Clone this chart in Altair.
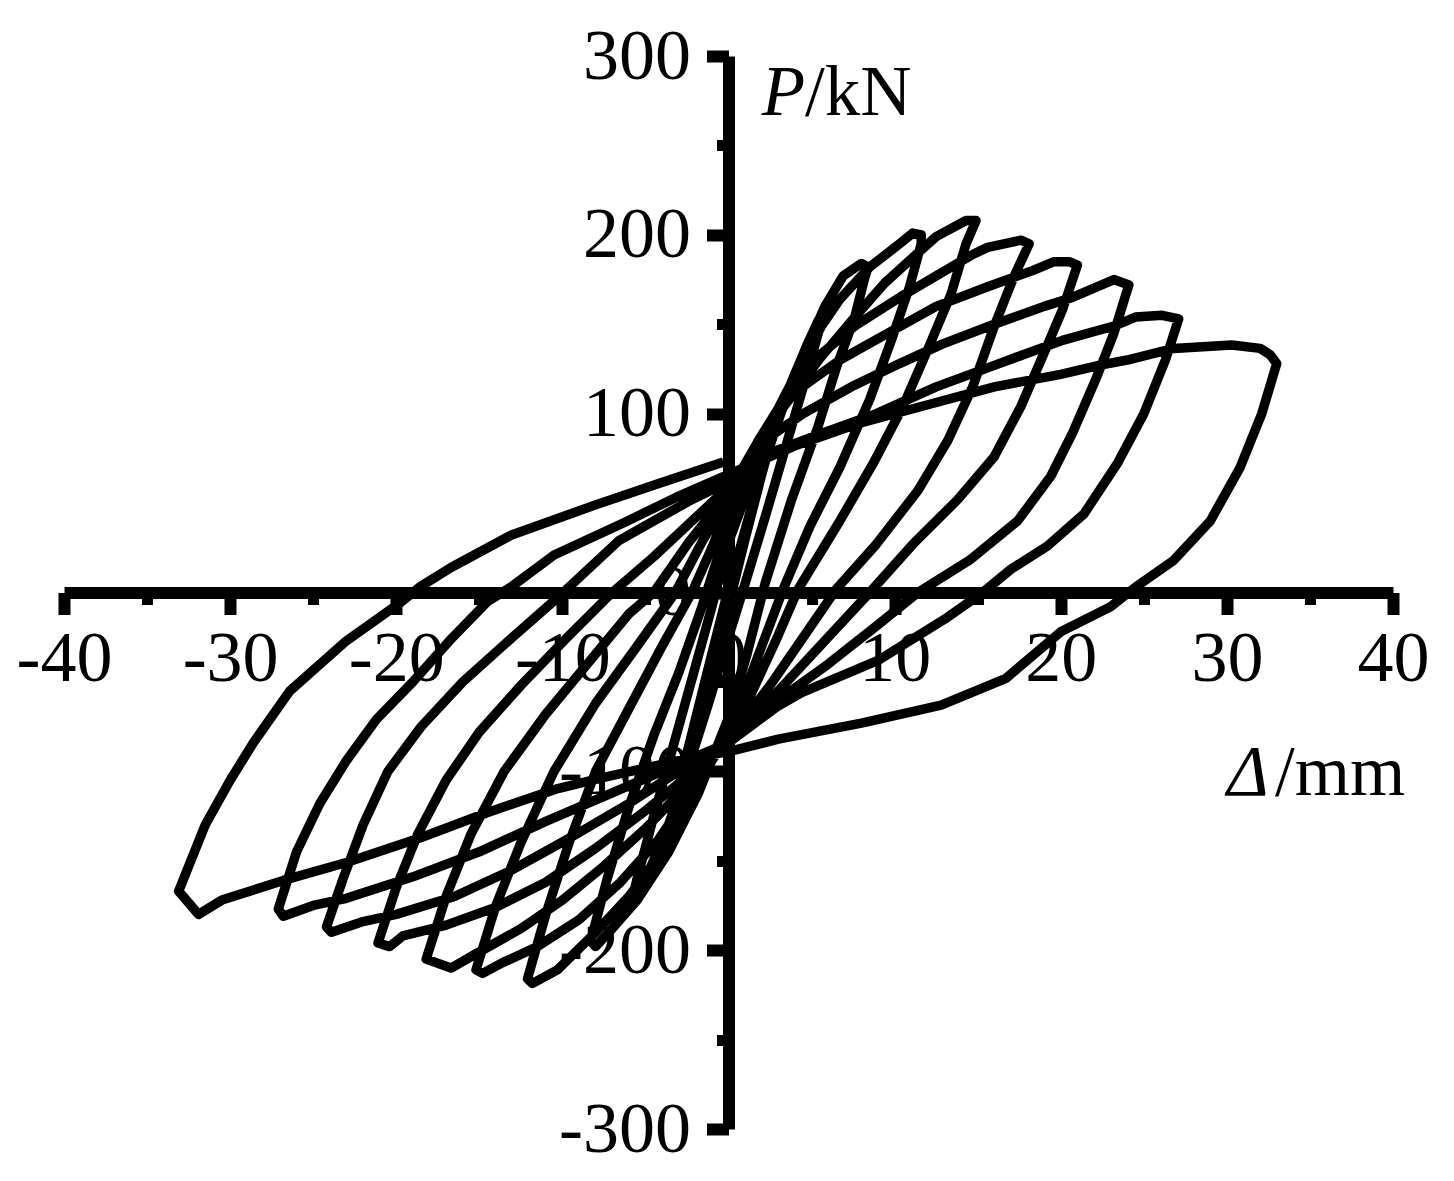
import altair as alt
import pandas as pd

# ---- hysteresis data (displacement mm, load kN) ----
cycle0_x = [0, 0.8, 1.8, 2.8, 3.3, 3.0, 2.0, 1.0, 0.2, -0.8, -1.8, -2.8, -3.4, -3.1, -2.1, -1.1, -0.2, 0]
cycle0_y = [0, 28, 62, 95, 108, 100, 66, 30, 0, -35, -70, -105, -120, -112, -75, -38, -5, 2]

cycle1_x = [0, 1.3, 2.6, 3.8, 4.8, 5.4, 5.7, 5.4, 4.5, 3.4, 2.2, 1.0, 0, -1.2, -2.5, -3.8, -4.9, -5.5, -5.8, -5.5, -4.5, -3.3, -2.1, -1.0, 0]
cycle1_y = [2, 45, 85, 118, 140, 152, 155, 145, 115, 80, 42, 5, -25, -62, -100, -135, -158, -168, -172, -160, -125, -85, -45, -8, 28]

cycle2_x = [0, 1.2, 2.6, 3.8, 4.9, 5.8, 6.9, 8.0, 8.4, 8.2, 7.6, 6.5, 5.4, 3.8, 2.2, 1.1, 0, -1.8, -3.6, -5.5, -7.2, -8.0, -8.3, -7.3, -6.0, -4.5, -3.0, -1.6, -0.7, 0]
cycle2_y = [28, 58, 88, 115, 141, 160, 177, 184, 182, 176, 154, 126, 93, 52, 5, -35, -70, -112, -145, -172, -190, -198, -195, -160, -120, -80, -45, -8, 18, 38]

cycle3_x = [0, 1.5, 3.0, 4.5, 5.6, 6.7, 8.5, 10.3, 11.1, 11.6, 11.6, 10.9, 9.8, 8.5, 6.7, 4.9, 3.3, 2.0, 0.8, 0, -2.0, -4.0, -6.0, -8.0, -10.3, -11.8, -12.1, -11.0, -9.6, -8.0, -6.0, -4.0, -2.2, -1.0, 0]
cycle3_y = [38, 72, 103, 130, 149, 164, 182, 195, 201, 200, 195, 171, 141, 108, 70, 37, 2, -30, -60, -76, -112, -145, -170, -190, -211, -218.6, -216, -180, -140, -100, -65, -30, 0, 25, 48]

cycle4_x = [0, 1.6, 3.0, 4.2, 5.6, 7.6, 9.4, 10.7, 12.5, 14.3, 14.9, 14.3, 13.4, 12.0, 10.5, 8.7, 6.7, 4.2, 2.8, 1.3, 0, -2.0, -4.2, -6.5, -9.0, -11.5, -13.6, -14.8, -15.2, -14.0, -12.5, -10.5, -8.0, -5.5, -3.2, -1.5, 0]
cycle4_y = [48, 80, 102, 115, 132, 154, 173, 184, 199, 208, 208, 195, 167, 136, 104, 72, 40, 2, -28, -58, -80, -108, -138, -162, -183, -198, -207, -213, -211, -175, -140, -100, -62, -30, 0, 30, 52]

cycle5_x = [0, 1.8, 3.6, 5.4, 7.6, 10.3, 12.5, 14.7, 15.6, 17.6, 18.1, 17.2, 16.0, 14.7, 13.2, 11.4, 8.9, 6.5, 4.5, 2.5, 0.5, 0, -2.5, -5.0, -7.5, -10.0, -12.5, -15.2, -16.7, -18.2, -17.0, -15.5, -13.5, -11.0, -8.5, -6.0, -4.5, -2.4, 0]
cycle5_y = [52, 85, 112, 132, 149, 165, 177, 189, 193, 197, 195, 177, 149, 115, 85, 57, 27, 2, -25, -52, -76, -82, -108, -132, -153, -172, -188, -202, -210, -205, -170, -135, -100, -68, -40, -12, 0, 28, 56]

cycle6_x = [0, 2.0, 4.0, 6.7, 9.6, 12.5, 15.6, 18.3, 19.6, 20.5, 21.0, 20.1, 19.0, 17.6, 16.0, 13.8, 11.1, 8.5, 6.5, 4.0, 1.5, 0, -2.5, -5.0, -8.0, -11.0, -14.0, -17.0, -19.6, -20.4, -21.1, -20.0, -18.7, -17.0, -15.0, -12.5, -9.7, -7.0, -4.5, -2.2, 0]
cycle6_y = [56, 88, 112, 130, 145, 160, 171, 180, 185, 185, 183, 158, 134, 104, 76, 52, 27, 0, -20, -45, -70, -82, -103, -122, -143, -162, -176, -186, -192, -198, -196, -165, -135, -105, -78, -52, -25, 0, 20, 40, 59]

cycle7_x = [0, 2.0, 4.5, 7.4, 10.3, 12.9, 16.0, 19.0, 20.7, 23.2, 24.1, 23.2, 22.1, 20.7, 19.4, 17.4, 14.5, 11.4, 9.0, 6.0, 3.0, 0, -3.0, -6.0, -9.5, -13.0, -16.5, -20.0, -22.0, -23.9, -24.2, -23.2, -22.0, -20.5, -18.5, -16.0, -13.0, -10.3, -6.6, -2.4, 0]
cycle7_y = [59, 84, 100, 115, 128, 139, 150, 160, 165, 175, 172, 145, 119, 89, 65, 40, 18, 0, -18, -40, -60, -83, -100, -118, -137, -155, -170, -180, -184, -190, -187, -160, -130, -100, -75, -50, -25, -3, 29, 51, 62]

cycle8_x = [0, 2.5, 5.6, 8.9, 12.5, 16.0, 20.1, 23.2, 24.5, 26.1, 27.1, 26.3, 25.0, 23.4, 21.4, 19.2, 17.0, 15.3, 13.0, 9.0, 4.4, 2.9, 0, -3.0, -7.0, -11.0, -15.0, -19.0, -23.0, -25.0, -26.8, -27.1, -26.0, -24.6, -23.0, -21.2, -19.0, -16.8, -14.5, -13.1, -10.5, -6.3, -3.2, 0]
cycle8_y = [62, 78, 89, 100, 115, 127, 141, 149, 154, 155, 153, 130, 100, 72, 44, 26, 13, 0, -15, -38, -56, -64, -84, -96, -112, -128, -145, -159, -171, -175, -181, -177, -145, -118, -94, -71, -50, -27, -5, 3, 21, 39, 53, 66]

cycle9_x = [0, 4.0, 8.0, 12.0, 16.0, 20.0, 22.3, 24.0, 26.8, 30.3, 32.0, 32.6, 33.0, 32.1, 30.8, 29.0, 26.8, 24.5, 23.0, 20.0, 16.7, 12.8, 8.0, 3.0, 0, -3.0, -7.3, -10.4, -14.5, -18.5, -23.0, -26.8, -30.5, -31.9, -33.1, -31.5, -30.0, -28.6, -26.4, -23.0, -19.8, -18.6, -16.7, -13.1, -8.0, -4.2, -0.3]
cycle9_y = [66, 82, 95, 105, 115, 122, 127, 130, 136.5, 138.4, 136.5, 133, 128, 100, 70, 40, 18, 3, -8, -22, -48, -63, -73, -82, -89, -94, -103, -110, -123, -137, -151, -161, -172, -180, -167, -130, -105, -84, -55, -27, -6, 3, 14, 32, 49, 61, 73]

# axis ticks
major_x = [-40, -30, -20, -10, 0, 10, 20, 30, 40]
minor_x = [-35, -25, -15, -5, 5, 15, 25, 35]
major_y = [-300, -200, -100, 0, 100, 200, 300]
minor_y = [-250, -150, -50, 50, 150, 250]

# axis titles (italic symbol + normal unit), anchored in data coordinates
ital_text = ["P", "\u0394"]
ital_x = [2.0, 30.0]
ital_y = [267, -113.3]
unit_text = ["/kN", "/mm"]
unit_x = [4.6, 32.9]
unit_y = [267, -113.3]

# ---- build tables ----
cycles = [(cycle0_x, cycle0_y), (cycle1_x, cycle1_y), (cycle2_x, cycle2_y),
          (cycle3_x, cycle3_y), (cycle4_x, cycle4_y), (cycle5_x, cycle5_y),
          (cycle6_x, cycle6_y), (cycle7_x, cycle7_y), (cycle8_x, cycle8_y),
          (cycle9_x, cycle9_y)]
rows = []
k = 0
for cx, cy in cycles:
    for a, b in zip(cx, cy):
        rows.append({"d": a, "p": b, "i": k})
        k += 1
df = pd.DataFrame(rows)
ital_df = pd.DataFrame({"d": ital_x, "p": ital_y, "t": ital_text})
unit_df = pd.DataFrame({"d": unit_x, "p": unit_y, "t": unit_text})

W, H = 1329, 1073
FONT = "Liberation Serif"
FS = 72
TFS = 71

xscale = alt.Scale(domain=[-40, 40], nice=False, zero=False)
yscale = alt.Scale(domain=[-300, 300], nice=False, zero=False)

x_major = alt.Axis(values=major_x, orient="bottom", offset=-H / 2, title="",
                   grid=False, domainWidth=12, domainColor="black",
                   tickSize=22, tickWidth=12, tickColor="black",
                   labelFont=FONT, labelFontSize=FS, labelColor="black",
                   labelPadding=9, labelFlush=False, labelOverlap=False,
                   labelExpr="'' + datum.value")
y_major = alt.Axis(values=major_y, orient="left", offset=-W / 2, title="",
                   grid=False, domainWidth=12, domainColor="black",
                   tickSize=22, tickWidth=12, tickColor="black",
                   labelFont=FONT, labelFontSize=FS, labelColor="black",
                   labelPadding=16, labelFlush=False, labelOverlap=False,
                   labelExpr="'' + datum.value")
x_minor = alt.Axis(values=minor_x, orient="bottom", offset=-H / 2, title="",
                   grid=False, domain=False, labels=False,
                   tickSize=12, tickWidth=11, tickColor="black")
y_minor = alt.Axis(values=minor_y, orient="left", offset=-W / 2, title="",
                   grid=False, domain=False, labels=False,
                   tickSize=12, tickWidth=11, tickColor="black")

lines = alt.Chart(df).mark_line(color="black", strokeWidth=9.5, strokeJoin="round").encode(
    x=alt.X("d:Q", scale=xscale, axis=x_major),
    y=alt.Y("p:Q", scale=yscale, axis=y_major),
    order="i:Q",
)

ital = alt.Chart(ital_df).mark_text(font=FONT, fontSize=TFS, fontStyle="italic",
                                     align="left", baseline="alphabetic",
                                     color="black").encode(
    x=alt.X("d:Q", scale=xscale, axis=x_minor),
    y=alt.Y("p:Q", scale=yscale, axis=y_minor),
    text="t:N",
)

unit = alt.Chart(unit_df).mark_text(font=FONT, fontSize=TFS, align="left",
                                     baseline="alphabetic", color="black").encode(
    x=alt.X("d:Q", scale=xscale, axis=None),
    y=alt.Y("p:Q", scale=yscale, axis=None),
    text="t:N",
)

chart = alt.layer(lines, ital, unit).resolve_axis(
    x="independent", y="independent"
).properties(
    width=W, height=H,
    autosize=alt.AutoSizeParams(type="none"),
    padding={"left": 56, "top": 48, "right": 40, "bottom": 40},
).configure_view(strokeWidth=0)

chart.save("out.html", embed_options={"renderer": "svg", "actions": False})
